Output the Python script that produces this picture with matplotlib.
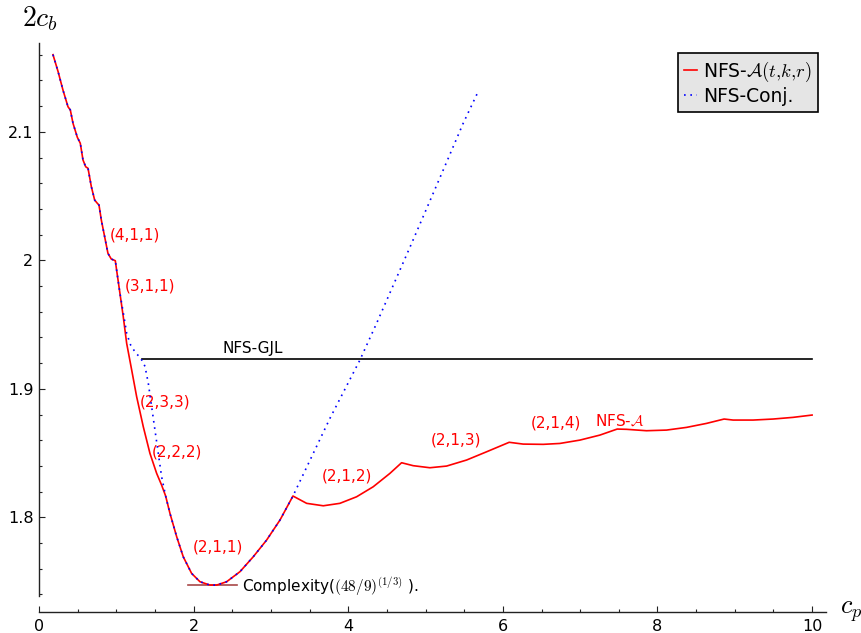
import matplotlib
matplotlib.use("Agg")
import matplotlib.pyplot as plt
from matplotlib.ticker import MultipleLocator

plt.rcParams["mathtext.fontset"] = "cm"
plt.rcParams["font.family"] = ["DejaVu Sans"]

# NFS-A(t,k,r): best complexity over the parameter choices
red_x = [0.181, 0.246, 0.310, 0.375, 0.405, 0.440, 0.496, 0.534, 0.569, 0.604,
         0.634, 0.677, 0.720, 0.754, 0.776, 0.806, 0.849, 0.892, 0.935, 0.987,
         1.004, 1.047, 1.090, 1.134, 1.199, 1.263, 1.349, 1.435, 1.522, 1.586,
         1.638, 1.694, 1.781, 1.866, 1.974, 2.082, 2.211, 2.298, 2.427, 2.599,
         2.771, 2.944, 3.117, 3.285, 3.462, 3.677, 3.892, 4.108, 4.323, 4.539,
         4.690, 4.840, 5.056, 5.272, 5.531, 5.789, 6.082, 6.263, 6.522, 6.737,
         6.996, 7.255, 7.479, 7.600, 7.858, 8.117, 8.376, 8.634, 8.862, 8.979,
         9.237, 9.496, 9.754, 10.0]
red_y = [2.1600, 2.1470, 2.1325, 2.1195, 2.1170, 2.1066, 2.0957, 2.0911, 2.0781, 2.0728,
         2.0716, 2.0573, 2.0469, 2.0444, 2.0430, 2.0314, 2.0184, 2.0054, 2.0010, 1.9997,
         1.9924, 1.9743, 1.9561, 1.9354, 1.9146, 1.8939, 1.8705, 1.8498, 1.8342, 1.8251,
         1.8166, 1.8031, 1.7849, 1.7693, 1.7564, 1.7499, 1.7473, 1.7473, 1.7499, 1.7577,
         1.7693, 1.7823, 1.7979, 1.8166, 1.8109, 1.8090, 1.8109, 1.8160, 1.8238, 1.8342,
         1.8425, 1.8402, 1.8386, 1.8399, 1.8446, 1.8510, 1.8584, 1.8570, 1.8568, 1.8575,
         1.8601, 1.8640, 1.8687, 1.8685, 1.8674, 1.8679, 1.8700, 1.8731, 1.8765, 1.8757,
         1.8757, 1.8765, 1.8778, 1.8796]

# NFS-Conj.
conj_x = [0.181, 0.246, 0.310, 0.375, 0.405, 0.440, 0.496, 0.534, 0.569, 0.604,
          0.634, 0.677, 0.720, 0.754, 0.776, 0.806, 0.849, 0.892, 0.935, 0.987,
          1.004, 1.047, 1.099, 1.134, 1.185, 1.254, 1.310, 1.371, 1.414, 1.457,
          1.500, 1.543, 1.586, 1.638, 1.694, 1.781, 1.866, 1.974, 2.082, 2.211,
          2.298, 2.427, 2.599, 2.771, 2.944, 3.117, 3.285, 3.763, 4.151, 4.367,
          4.820, 5.229, 5.487, 5.690]
conj_y = [2.1600, 2.1470, 2.1325, 2.1195, 2.1170, 2.1066, 2.0957, 2.0911, 2.0781, 2.0728,
          2.0716, 2.0573, 2.0469, 2.0444, 2.0430, 2.0314, 2.0184, 2.0054, 2.0010, 1.9997,
          1.9924, 1.9743, 1.9561, 1.9432, 1.9341, 1.9276, 1.9245, 1.9175, 1.9043, 1.8861,
          1.8679, 1.8498, 1.8316, 1.8166, 1.8031, 1.7849, 1.7693, 1.7564, 1.7499, 1.7473,
          1.7473, 1.7499, 1.7577, 1.7693, 1.7823, 1.7979, 1.8166, 1.8770, 1.9224, 1.9510,
          2.0132, 2.0703, 2.1066, 2.1325]

# NFS-GJL level
gjl_x = [1.33, 10.0]
gjl_y = [1.9232, 1.9232]

# Complexity (48/9)^(1/3)
complexity_value = (48 / 9) ** (1 / 3)
complexity_x = [1.931, 2.564]

labels = ["(4,1,1)", "(3,1,1)", "(2,3,3)", "(2,2,2)", "(2,1,1)",
          "(2,1,2)", "(2,1,3)", "(2,1,4)", r"NFS-$\mathcal{A}$"]
label_x = [0.918, 1.112, 1.306, 1.461, 1.991, 3.660, 5.069, 6.362, 7.19]
label_y = [2.0197, 1.9800, 1.8898, 1.8508, 1.7769, 1.8321, 1.8602, 1.8734, 1.8750]

W, H = 862, 633
fig = plt.figure(figsize=(W / 100, H / 100), dpi=100)
ax = fig.add_axes([39 / W, 37 / H, 787 / W, 553 / H])
ax.set_xlim(0, 10.18)
ax.set_ylim(1.7388, 2.1691)

ax.plot(red_x, red_y, color="#ff0000", lw=1.2, label=r"NFS-$\mathcal{A}(t{,}k{,}r)$", zorder=3)
ax.plot(conj_x, conj_y, color="#0000ff", lw=1.2, linestyle=(0, (1, 2.8)),
        label="NFS-Conj.", zorder=4)
ax.plot(gjl_x, gjl_y, color="black", lw=1.2, zorder=2)
ax.plot(complexity_x, [complexity_value] * 2, color="#a84848", lw=1.2, zorder=2)

for s, x, y in zip(labels, label_x, label_y):
    ax.text(x, y, s, color="#ff0000", fontsize=11, ha="left", va="center")
ax.text(2.379, 1.931, "NFS-GJL", color="black", fontsize=11, ha="left", va="center")
ax.text(2.625, 1.7457, r"Complexity($(48/9)^{(1/3)}$ ).", color="black",
        fontsize=11, ha="left", va="center")

# axes styling
for side in ("top", "right"):
    ax.spines[side].set_visible(False)
ax.spines["bottom"].set_position(("outward", 11.5))
for side in ("left", "bottom"):
    ax.spines[side].set_color("#222222")
    ax.spines[side].set_linewidth(1.0)

ax.set_xticks([0, 2, 4, 6, 8, 10])
ax.set_xticklabels(["0", "2", "4", "6", "8", "10"])
ax.set_yticks([1.8, 1.9, 2.0, 2.1])
ax.set_yticklabels(["1.8", "1.9", "2", "2.1"])
ax.xaxis.set_minor_locator(MultipleLocator(0.5))
ax.yaxis.set_minor_locator(MultipleLocator(0.02))
ax.tick_params(which="major", direction="in", length=4.5, width=0.8,
               color="#222222", labelsize=11.5)
ax.tick_params(which="minor", direction="in", length=2.2, width=0.8, color="#222222")
ax.tick_params(axis="x", pad=5)
ax.tick_params(axis="y", pad=4)

fig.text(22 / W, 1 - 26 / H, r"$2c_b$", fontsize=20, ha="left", va="baseline")
fig.text(840 / W, 1 - 614 / H, r"$c_p$", fontsize=19, ha="left", va="baseline")

leg = ax.legend(loc="upper right", bbox_to_anchor=(818 / W, 1 - 53 / H),
                bbox_transform=fig.transFigure, fancybox=False, edgecolor="black",
                facecolor="#e5e5e5", framealpha=1, fontsize=13.5, handlelength=0.7,
                handletextpad=0.3, borderpad=0.35, labelspacing=0.15, borderaxespad=0)
leg.get_frame().set_linewidth(1.2)

fig.savefig("out.png", dpi=100)
